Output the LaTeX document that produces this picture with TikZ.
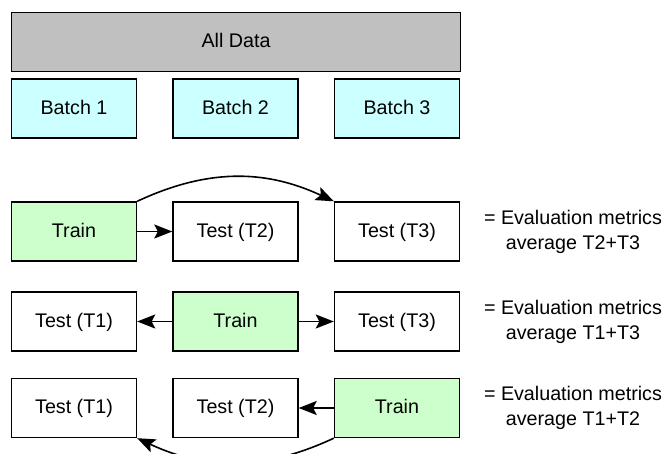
\documentclass[tikz,border=0pt]{standalone}
\usepackage{fontspec}
\setmainfont{Liberation Sans}
\usetikzlibrary{arrows.meta, positioning}
\definecolor{cgrey}{HTML}{C0C0C0}
\definecolor{ccyan}{HTML}{CCFFFF}
\definecolor{cgreen}{HTML}{CCFFCC}
\tikzset{
  every picture/.style={x=1pt, y=1pt, line width=1.4pt},
  box/.style={draw=black, fill=#1, minimum width=125pt, minimum height=59pt, inner sep=0pt, text height=16pt, text depth=4pt, font=\fontsize{19.7}{24}\selectfont},
  box/.default=white,
  arrow/.style={-{Stealth[length=18pt, width=14pt, inset=3.5pt]}, draw=black, line width=1.6pt},
  note/.style={font=\fontsize{19.7}{25}\selectfont, align=center},
}
\begin{document}
\begin{tikzpicture}
  \useasboundingbox (0,0) rectangle (665,-454);
  \node[box=cgrey, minimum width=449pt] (all) at (236,-41.75) {All Data};
  \foreach \i/\x in {1/74, 2/235.5, 3/397}
    \node[box=ccyan] (b\i) at (\x,-108.5) {Batch \i};
  % fold 1
  \node[box=cgreen] (tr1) at (74,-231.5) {Train};
  \node[box] (t12) at (235.5,-231.5) {Test (T2)};
  \node[box] (t13) at (397,-231.5) {Test (T3)};
  \draw[arrow] (tr1.east) -- (t12.west);
  \draw[arrow] (tr1.north east) to[bend left=25] (t13.north west);
  % fold 2
  \node[box] (t21) at (74,-321.5) {Test (T1)};
  \node[box=cgreen] (tr2) at (235.5,-321.5) {Train};
  \node[box] (t23) at (397,-321.5) {Test (T3)};
  \draw[arrow] (tr2.west) -- (t21.east);
  \draw[arrow] (tr2.east) -- (t23.west);
  % fold 3
  \node[box] (t31) at (74,-408) {Test (T1)};
  \node[box] (t32) at (235.5,-408) {Test (T2)};
  \node[box=cgreen] (tr3) at (397,-408) {Train};
  \draw[arrow] (tr3.west) -- (t32.east);
  \draw[arrow] (tr3.south west) to[bend left=25] (t31.south east);
  % results
  \node[note] (r1) at (573,-231.5) {= Evaluation metrics\\average T2+T3};
  \node[note] (r2) at (573,-321.5) {= Evaluation metrics\\average T1+T3};
  \node[note] (r3) at (573,-408) {= Evaluation metrics\\average T1+T2};
\end{tikzpicture}
\end{document}
